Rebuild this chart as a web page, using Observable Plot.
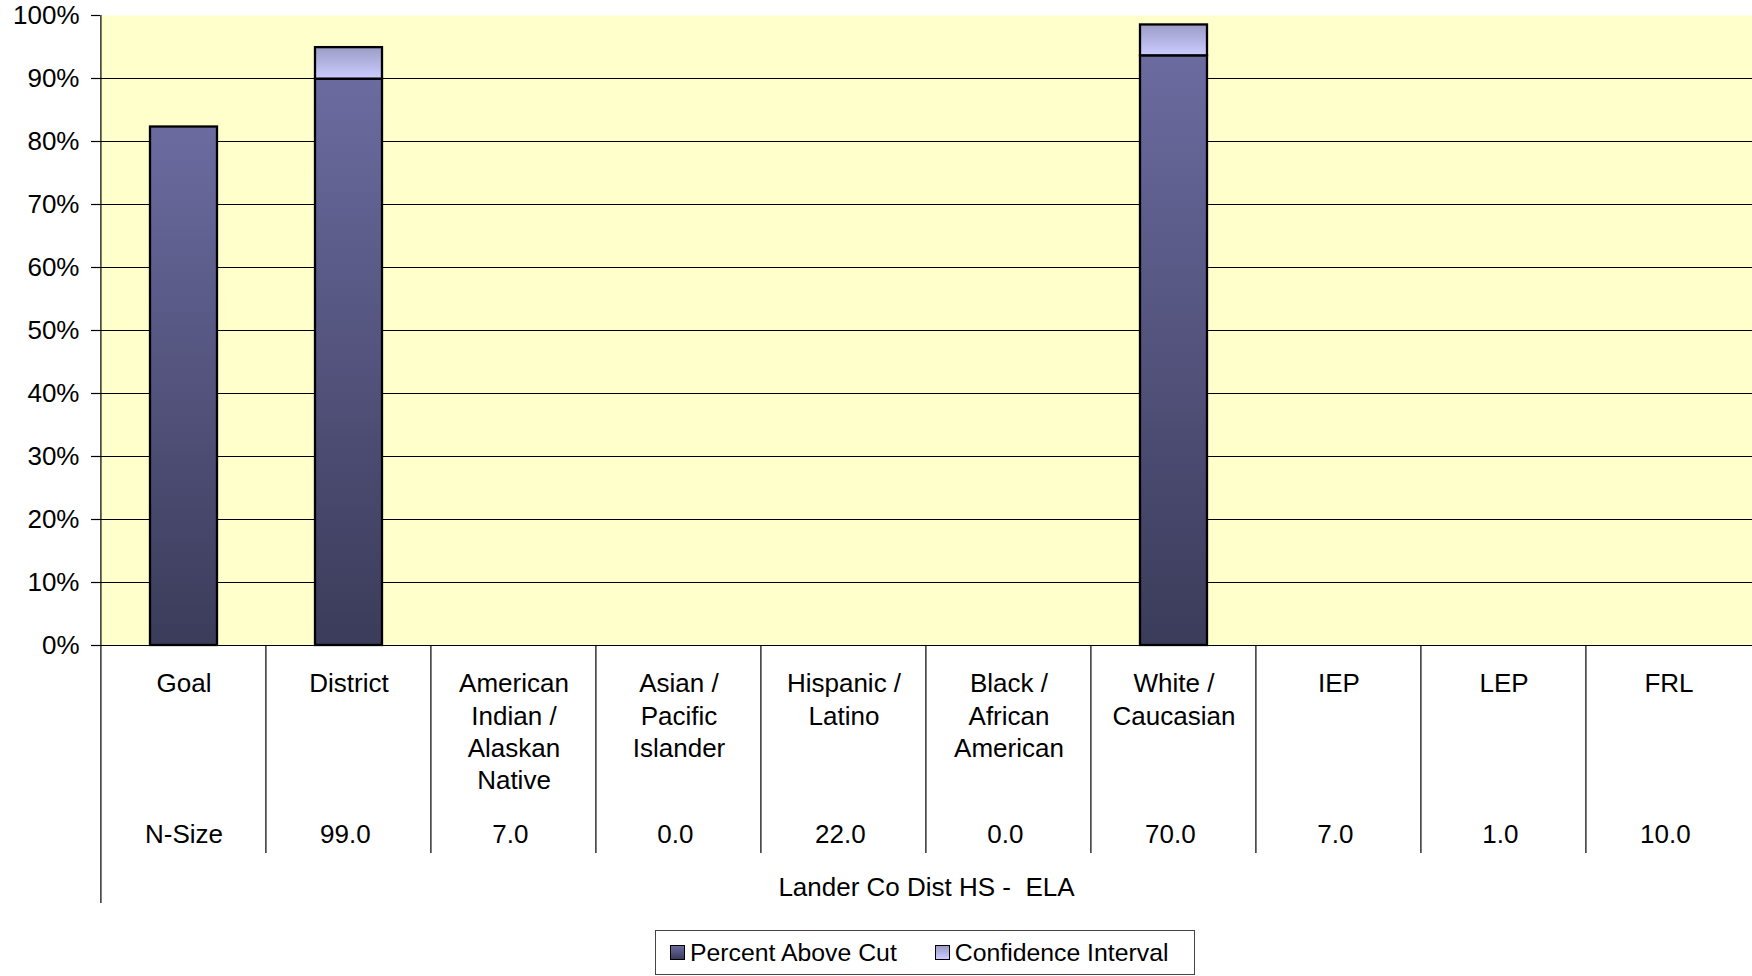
<!DOCTYPE html>
<html>
<head>
<meta charset="utf-8">
<script src="https://cdn.jsdelivr.net/npm/d3@7"></script>
<script src="https://cdn.jsdelivr.net/npm/@observablehq/plot@0.6"></script>
<style>
  html, body { margin: 0; padding: 0; background: #fff; }
  body { font-family: "Liberation Sans", Arial, sans-serif; position: relative; width: 1752px; height: 976px; overflow: hidden; }
  #chart svg text { white-space: pre; }
  #legend {
    position: absolute; left: 655px; top: 930px; width: 540px; height: 45px;
    box-sizing: border-box; border: 1px solid #444; background: #fff;
    display: flex; align-items: center; font-size: 24.8px; color: #000;
    padding-left: 14px;
  }
  .sw { width: 13px; height: 13px; border: 1.5px solid #000; margin-right: 5px; flex: none; }
  .item { display: flex; align-items: center; }
</style>
</head>
<body>
<div id="chart"></div>
<div id="legend"></div>
<script>
// ---- data ----
const categories = ["Goal", "District", "American Indian / Alaskan Native", "Asian / Pacific Islander",
  "Hispanic / Latino", "Black / African American", "White / Caucasian", "IEP", "LEP", "FRL"];
const categoryLabels = ["Goal", "District", "American\nIndian /\nAlaskan\nNative", "Asian /\nPacific\nIslander",
  "Hispanic /\nLatino", "Black /\nAfrican\nAmerican", "White /\nCaucasian", "IEP", "LEP", "FRL"];
const nSizes = ["N-Size", "99.0", "7.0", "0.0", "22.0", "0.0", "70.0", "7.0", "1.0", "10.0"];
const percentAboveCut = [0.823, 0.899, null, null, null, null, 0.936, null, null, null];
const confidenceInterval = [null, 0.050, null, null, null, null, 0.049, null, null, null];
const yTicks = [0, 0.1, 0.2, 0.3, 0.4, 0.5, 0.6, 0.7, 0.8, 0.9, 1.0];
const seriesNames = ["Percent Above Cut", "Confidence Interval"];
const chartTitle = "Lander Co Dist HS -  ELA";

// ---- styles ----
const mainTop = "#6b6ba0", mainBottom = "#3b3b5a";
const ciTop = "#9c9cc8", ciBottom = "#ccccff";
const fontFamily = '"Liberation Sans", Arial, sans-serif';

const mainRows = categories.map((c, i) => ({category: c, value: percentAboveCut[i]})).filter(d => d.value != null);
const ciRows = categories.map((c, i) => ({category: c, lo: percentAboveCut[i], hi: percentAboveCut[i] + confidenceInterval[i]}))
  .filter((d, i) => confidenceInterval[i] != null);

const defsMark = () => {
  const defs = d3.create("svg:defs");
  const mk = (id, top, bottom) => {
    const g = defs.append("linearGradient").attr("id", id).attr("x1", 0).attr("y1", 0).attr("x2", 0).attr("y2", 1);
    g.append("stop").attr("offset", "0%").attr("stop-color", top);
    g.append("stop").attr("offset", "100%").attr("stop-color", bottom);
  };
  mk("gradMain", mainTop, mainBottom);
  mk("gradCI", ciTop, ciBottom);
  return defs.node();
};

// table grid lines below the plot (cell separators and extended y-axis line)
const tableLines = (index, scales, values, dims) => {
  const g = d3.create("svg:g").attr("stroke", "#000").attr("stroke-width", 1.2);
  const x = scales.x;
  const step = (dims.width - dims.marginLeft - dims.marginRight) / categories.length;
  const bw = typeof x.bandwidth === "function" ? x.bandwidth() : (typeof x.bandwidth === "number" ? x.bandwidth : 0);
  const y0 = scales.y(0), y1 = scales.y(1);
  categories.forEach((c, i) => {
    const left = x(c) + bw / 2 - step / 2;
    if (i === 0) {
      g.append("line").attr("x1", left).attr("x2", left).attr("y1", y1).attr("y2", dims.height - 22);
    } else {
      g.append("line").attr("x1", left).attr("x2", left).attr("y1", y0).attr("y2", y0 + 208);
    }
  });
  return g.node();
};

const plot = Plot.plot({
  width: 1752,
  height: 925,
  marginLeft: 100,
  marginRight: 0,
  marginTop: 15,
  marginBottom: 280,
  style: {fontFamily, fontSize: "26px", color: "#000", background: "transparent", overflow: "visible"},
  x: {domain: categories, paddingInner: 0.595, paddingOuter: 0.2975, align: 0.5, axis: null},
  y: {domain: [0, 1], axis: null},
  marks: [
    defsMark,
    Plot.frame({fill: "#ffffcc", stroke: "none"}),
    Plot.gridY(yTicks.slice(1, -1), {stroke: "#000", strokeOpacity: 1, strokeWidth: 1.1}),
    Plot.barY(mainRows, {x: "category", y1: 0, y2: "value", fill: "url(#gradMain)", stroke: "#000", strokeWidth: 2.3}),
    Plot.barY(ciRows, {x: "category", y1: "lo", y2: "hi", fill: "url(#gradCI)", stroke: "#000", strokeWidth: 2.3}),
    Plot.ruleY([0], {stroke: "#000", strokeWidth: 1.2}),
    Plot.axisY({ticks: yTicks, tickFormat: d3.format(".0%"), tickSize: 9, tickPadding: 12, fontSize: 26, label: null, strokeWidth: 1.2}),
    Plot.axisX({tickSize: 0, tickPadding: 24, tickFormat: d => categoryLabels[categories.indexOf(d)],
      lineHeight: 1.242, fontSize: 26, label: null}),
    Plot.axisX({tickSize: 0, tickPadding: 179,
      tickFormat: d => { const s = nSizes[categories.indexOf(d)]; return isNaN(+s) ? s : s + "\u00a0"; },
      fontSize: 26, label: null}),
    Plot.text([chartTitle], {frameAnchor: "bottom", dy: 250, fontSize: 26, fill: "#000"}),
    tableLines
  ]
});
document.getElementById("chart").appendChild(plot);

// legend
const legend = document.getElementById("legend");
const swatchBg = [`linear-gradient(${mainTop}, ${mainBottom})`, `linear-gradient(${ciTop}, ${ciBottom})`];
seriesNames.forEach((name, i) => {
  const item = document.createElement("div");
  item.className = "item";
  item.style.marginLeft = i === 0 ? "0px" : "38px";
  const sw = document.createElement("div");
  sw.className = "sw";
  sw.style.background = swatchBg[i];
  const t = document.createElement("span");
  t.textContent = name;
  item.appendChild(sw);
  item.appendChild(t);
  legend.appendChild(item);
});
</script>
</body>
</html>
